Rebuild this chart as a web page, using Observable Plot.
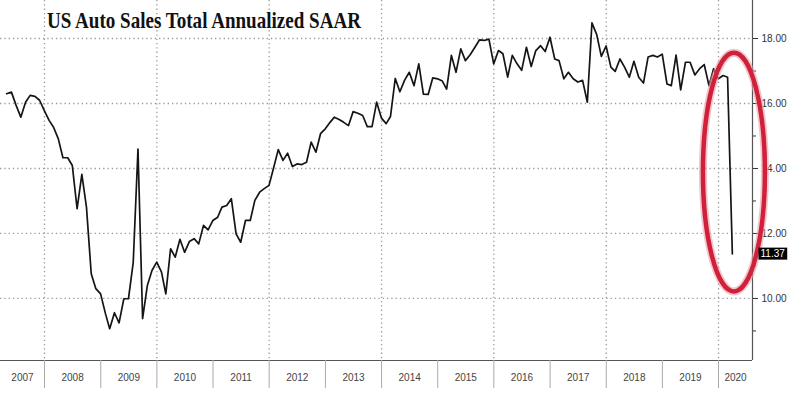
<!DOCTYPE html>
<html>
<head>
<meta charset="utf-8">
<script src="https://cdn.jsdelivr.net/npm/d3@7"></script>
<script src="https://cdn.jsdelivr.net/npm/@observablehq/plot@0.6"></script>
<style>
  html, body { margin: 0; padding: 0; background: #fff; }
  #chart { width: 800px; height: 397px; position: relative; }
</style>
</head>
<body>
<div id="chart"></div>
<script>
// ---- Data: US light vehicle sales, SAAR (millions), monthly, Apr 2007 - Mar 2020
const titleText = "US Auto Sales Total Annualized SAAR";
const firstYear = 2007, firstMonth = 3; // April 2007 (0-based month)
const sales2007 = [16.30, 16.35, 15.95, 15.58, 16.04, 16.25, 16.22, 16.10, 15.78];
const sales2008 = [15.48, 15.27, 14.91, 14.33, 14.33, 14.09, 12.76, 13.82, 12.81, 10.76, 10.30, 10.14];
const sales2009 = [9.54, 9.07, 9.56, 9.25, 9.99, 9.99, 11.10, 14.60, 9.38, 10.40, 10.86, 11.12];
const sales2010 = [10.81, 10.14, 11.53, 11.27, 11.82, 11.42, 11.75, 11.84, 11.68, 12.25, 12.11, 12.40];
const sales2011 = [12.50, 12.81, 12.86, 13.07, 11.99, 11.73, 12.40, 12.40, 13.02, 13.27, 13.38, 13.48];
const sales2012 = [14.04, 14.58, 14.25, 14.47, 14.06, 14.14, 14.12, 14.19, 14.81, 14.50, 15.07, 15.22];
const sales2013 = [15.42, 15.58, 15.51, 15.42, 15.32, 15.75, 15.70, 15.63, 15.29, 15.29, 16.04, 15.55];
const sales2014 = [15.38, 15.60, 16.77, 16.36, 16.72, 16.96, 16.55, 17.22, 16.29, 16.28, 16.79, 16.76];
const sales2015 = [16.69, 16.44, 17.48, 16.96, 17.68, 17.32, 17.50, 17.73, 17.96, 17.94, 17.98, 17.22];
const sales2016 = [17.63, 17.53, 16.81, 17.48, 17.22, 17.02, 17.73, 17.14, 17.63, 17.78, 17.60, 18.04];
const sales2017 = [17.37, 17.32, 16.76, 16.96, 16.76, 16.66, 16.71, 16.04, 18.48, 18.12, 17.45, 17.77];
const sales2018 = [17.12, 16.99, 17.37, 17.12, 16.81, 17.30, 16.81, 16.63, 17.43, 17.48, 17.43, 17.52];
const sales2019 = [16.60, 16.55, 17.49, 16.42, 17.27, 17.27, 16.88, 17.07, 17.20, 16.55, 17.07, 16.76];
const sales2020 = [16.86, 16.81, 11.37];

const yMajorTicks = [10, 12, 14, 16, 18];
const yMinorTicks = [9, 11, 13, 15, 17];
const yearLabels = [2007, 2008, 2009, 2010, 2011, 2012, 2013, 2014, 2015, 2016, 2017, 2018, 2019, 2020];
const gridYears = [2008, 2010, 2012, 2014, 2016, 2018, 2020];

// Annotation: red ellipse around the March 2020 collapse (data coordinates)
const ringLeft = Date.UTC(2019, 8, 25), ringRight = Date.UTC(2020, 10, 1);
const ringTop = 17.55, ringBottom = 10.2;

// ---- Build the table
const allValues = [].concat(sales2007, sales2008, sales2009, sales2010, sales2011, sales2012,
  sales2013, sales2014, sales2015, sales2016, sales2017, sales2018, sales2019, sales2020);
const series = allValues.map((v, i) => ({
  date: new Date(Date.UTC(firstYear, firstMonth + i + 1, 0)), // month-end
  value: v
}));
const last = series[series.length - 1];
const lastLabel = d3.format(".2f")(last.value);

const xDomain = [new Date(Date.UTC(2007, 2, 21)), new Date(Date.UTC(2020, 7, 9))];
const yDomain = [8.09, 19.17];

const yearStarts = yearLabels.slice(1).map(y => new Date(Date.UTC(y, 0, 1)));
const gridDates = gridYears.map(y => new Date(Date.UTC(y, 0, 1)));
const yearMid = yearLabels.map(y => {
  const a = Math.max(Date.UTC(y, 0, 1), +xDomain[0]);
  const b = Math.min(Date.UTC(y + 1, 0, 1), +xDomain[1]);
  return {year: String(y), date: new Date((a + b) / 2)};
});

const grid = {stroke: "#9a9a9a", strokeOpacity: 1, strokeWidth: 1.3, strokeDasharray: "1.3,3"};

const plot = Plot.plot({
  width: 800,
  height: 397,
  marginLeft: 0,
  marginRight: 48,
  marginTop: 0,
  marginBottom: 37,
  style: {fontFamily: "'Liberation Sans', Arial, sans-serif", fontSize: "10px", background: "#fff", overflow: "visible"},
  x: {type: "utc", domain: xDomain, axis: null, label: null},
  y: {domain: yDomain, axis: null, label: null},
  marks: [
    Plot.gridY(yMajorTicks, grid),
    Plot.gridX(gridDates, grid),
    Plot.ruleY([yDomain[0]], {stroke: "#555", strokeWidth: 1.2}),
    Plot.ruleX([xDomain[1]], {stroke: "#555", strokeWidth: 1.2}),
    Plot.axisY(yMajorTicks, {anchor: "right", label: null, tickSize: 5, tickPadding: 4, tickFormat: d3.format(".2f"), color: "#333", fontSize: 10}),
    Plot.axisY(yMinorTicks, {anchor: "right", label: null, tickSize: 3, tickFormat: () => "", color: "#333"}),
    Plot.axisX(yearStarts, {anchor: "bottom", label: null, tickSize: 28, tickFormat: () => "", stroke: "#aaa"}),
    Plot.text(yearMid, {x: "date", text: "year", frameAnchor: "bottom", dy: 20, fill: "#444", fontSize: 10}),
    Plot.line(series, {x: "date", y: "value", stroke: "#151515", strokeWidth: 1.7}),
    Plot.text([last], {x: () => xDomain[1], y: "value", text: () => lastLabel, textAnchor: "start", dx: 8, fill: "#fff", fontSize: 10})
  ]
});

document.getElementById("chart").appendChild(plot);

// ---- Post-processing: title, value-box background, annotation ellipse
const svg = d3.select(plot);
const xs = d3.scaleUtc().domain(xDomain).range([0, 752]);
const ys = d3.scaleLinear().domain(yDomain).range([360, 0]);

let labelGroup = null;
// black box behind the last-value label (same transform as the text)
svg.selectAll("text").filter(function() { return this.textContent === lastLabel; })
  .each(function() {
    labelGroup = this.parentNode;
    const bb = this.getBBox();
    const r = d3.select(this.parentNode).insert("rect", () => this)
      .attr("x", bb.x - 2).attr("y", bb.y - 0.5)
      .attr("width", bb.width + 4).attr("height", bb.height + 1)
      .attr("fill", "#000").attr("stroke", "none");
    const tr = this.getAttribute("transform");
    if (tr) r.attr("transform", tr);
  });

// ellipse annotation (placed beneath the value label)
const ecx = (xs(ringLeft) + xs(ringRight)) / 2, ecy = (ys(ringTop) + ys(ringBottom)) / 2;
const erx = (xs(ringRight) - xs(ringLeft)) / 2, ery = (ys(ringBottom) - ys(ringTop)) / 2;
const ring = svg.insert("g", () => labelGroup);
ring.append("ellipse").attr("cx", ecx).attr("cy", ecy).attr("rx", erx).attr("ry", ery)
  .attr("fill", "none").attr("stroke", "#e8a0aa").attr("stroke-width", 8).attr("opacity", 0.6);
ring.append("ellipse").attr("cx", ecx).attr("cy", ecy).attr("rx", erx).attr("ry", ery)
  .attr("fill", "none").attr("stroke", "#d0203a").attr("stroke-width", 4.5);

// title
svg.append("text").text(titleText)
  .attr("x", 47).attr("y", 28)
  .attr("text-anchor", "start")
  .attr("font-family", "'Liberation Serif', 'DejaVu Serif', serif")
  .attr("font-weight", "bold").attr("font-size", 24).attr("fill", "#111")
  .attr("textLength", 314).attr("lengthAdjust", "spacingAndGlyphs");
</script>
</body>
</html>
